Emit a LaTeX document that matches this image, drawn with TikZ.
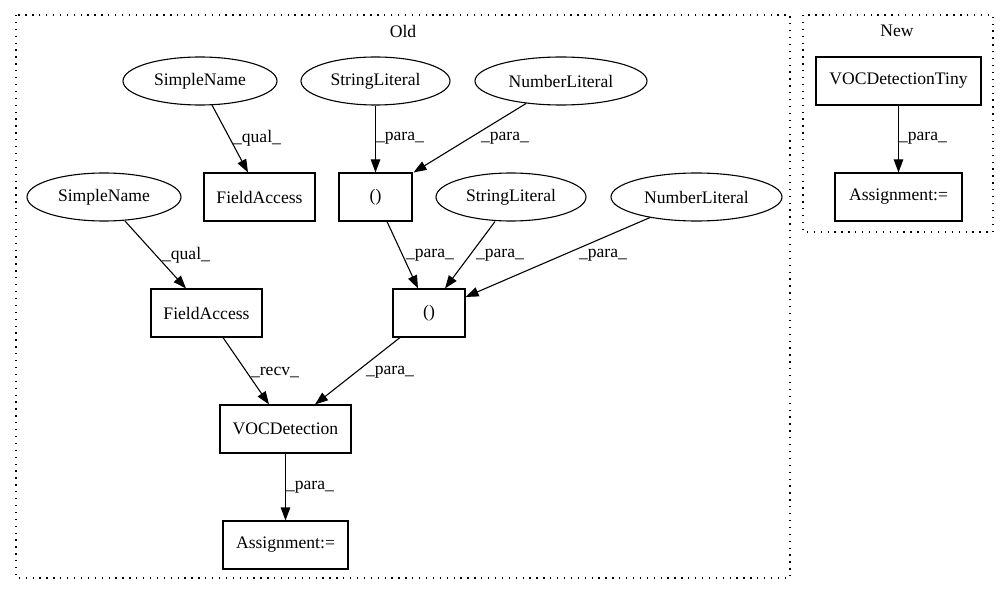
\documentclass[tikz,border=0pt]{standalone}
\usepackage{fontspec}
\setmainfont{Liberation Serif}
\usetikzlibrary{shapes.geometric,arrows.meta}
\begin{document}
\begin{tikzpicture}[x=1pt,y=-1pt,
  every node/.style={font=\fontsize{17.6}{20}\selectfont, inner sep=0pt},
  ell/.style={draw, ellipse, line width=1.1pt, minimum height=48pt},
  box/.style={draw, rectangle, line width=1.1pt, minimum height=48pt},
  edge/.style={draw, line width=1.1pt, -{Triangle[length=13pt,width=9.5pt]}},
  lbl/.style={},
  cluster/.style={draw, line width=1.3pt, dash pattern=on 1.3pt off 5.6pt}]
\useasboundingbox (0,0) rectangle (1004,596);
% clusters
\draw[cluster] (16,15) rectangle (790,578);
\draw[cluster] (803,15) rectangle (993,232);
\node (oldlbl) at (403,31) {Old};
\node (newlbl) at (897,31) {New};
% nodes
\node[ell, minimum width=154pt] (sn1) at (200,81) {SimpleName};
\node[ell, minimum width=149pt] (sl1) at (375.5,81) {StringLiteral};
\node[ell, minimum width=172pt] (nl1) at (561,81) {NumberLiteral};
\node[box, minimum width=111pt] (fa1) at (259.5,197) {FieldAccess};
\node[box, minimum width=73pt] (p1) at (375.5,197) {()};
\node[ell, minimum width=154pt] (sn2) at (104,197) {SimpleName};
\node[ell, minimum width=150pt] (sl2) at (511,197) {StringLiteral};
\node[ell, minimum width=171pt] (nl2) at (696.5,197) {NumberLiteral};
\node[box, minimum width=111pt] (fa2) at (206.5,313) {FieldAccess};
\node[box, minimum width=72pt] (p2) at (429,313) {()};
\node[box, minimum width=131pt] (voc) at (285.5,429) {VOCDetection};
\node[box, minimum width=125pt] (asg) at (285.5,545) {Assignment:=};
\node[box, minimum width=165pt] (tiny) at (898.5,81) {VOCDetectionTiny};
\node[box, minimum width=127pt] (asg2) at (898.5,197) {Assignment:=};
% edges
\draw[edge] ([xshift=12pt,yshift=0.5pt]sn1.south) -- ([xshift=-11.5pt]fa1.north);
\draw[edge] (sl1.south) -- (p1.north);
\draw[edge] ([xshift=-35pt,yshift=2pt]nl1.south) -- ([xshift=1pt]p1.north east);
\draw[edge] ([xshift=21pt,yshift=0.5pt]sn2.south) -- ([xshift=-20.5pt]fa2.north);
\draw[edge] ([xshift=11.5pt]p1.south) -- ([xshift=-11pt]p2.north);
\draw[edge] ([xshift=-16pt]sl2.south) -- ([xshift=16pt]p2.north);
\draw[edge] ([xshift=-46.5pt,yshift=4pt]nl2.south) -- ([yshift=16pt]p2.east);
\draw[edge] ([xshift=16.5pt]fa2.south) -- ([xshift=-16.5pt]voc.north);
\draw[edge] ([xshift=-29pt]p2.south) -- ([xshift=29.5pt]voc.north);
\draw[edge] (voc.south) -- (asg.north);
\draw[edge] (tiny.south) -- (asg2.north);
% edge labels
\node[lbl] (l1) at (257,138) {\_qual\_};
\node[lbl] (l2) at (400,138) {\_para\_};
\node[lbl] (l3) at (505,138) {\_para\_};
\node[lbl] (l4) at (186,255) {\_qual\_};
\node[lbl] (l5) at (430,255) {\_para\_};
\node[lbl] (l6) at (500,255) {\_para\_};
\node[lbl] (l7) at (603,255) {\_para\_};
\node[lbl] (l8) at (275,372) {\_recv\_};
\node[lbl] (l9) at (390,372) {\_para\_};
\node[lbl] (l10) at (310,487) {\_para\_};
\node[lbl] (l11) at (923,138) {\_para\_};
\end{tikzpicture}
\end{document}
